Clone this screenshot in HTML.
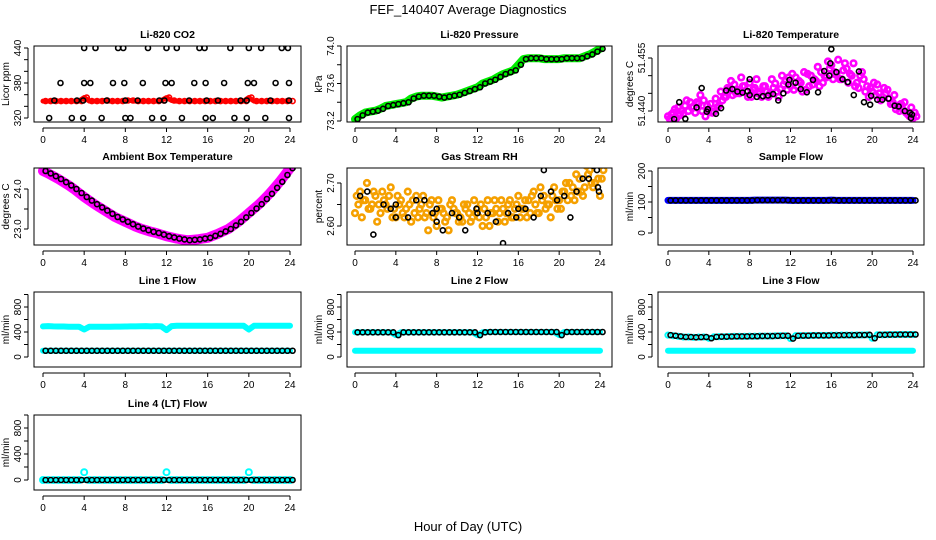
<!DOCTYPE html>
<html><head><meta charset="utf-8"><title>FEF_140407 Average Diagnostics</title>
<style>
html,body{margin:0;padding:0;background:#fff;}
svg{display:block;font-family:"Liberation Sans",sans-serif;}
</style></head>
<body>
<svg id="chart" width="936" height="540" viewBox="0 0 936 540" xmlns="http://www.w3.org/2000/svg">
<rect width="936" height="540" fill="#fff"/>
<text x="468" y="14" text-anchor="middle" font-size="13">FEF_140407  Average Diagnostics</text>
<text x="468" y="531" text-anchor="middle" font-size="13">Hour of Day (UTC)</text>
</svg>
<script>
const H49 = [0,0.5,1,1.5,2,2.5,3,3.5,4,4.5,5,5.5,6,6.5,7,7.5,8,8.5,9,9.5,10,10.5,11,11.5,12,12.5,13,13.5,14,14.5,15,15.5,16,16.5,17,17.5,18,18.5,19,19.5,20,20.5,21,21.5,22,22.5,23,23.5,24];
const xTicks = [0,4,8,12,16,20,24];

// CO2
const co2Red = [349,349,349,349,349,349,349,349,355,349,349,349,350,349,349,349,350,350,349,349,349,349,349,350,355,350,349,349,349,349,349,349,349,349,349,349,349,349,349,349,355,349,349,349,349,349,349,349,349];
const co2BlkHour = [4,5.1,7.3,7.8,10.2,12,13,15.2,15.7,18.2,20,21.2,23.2,23.8, 1.7,4,4.6,6.8,7.9,9.7,11.9,12.5,14.7,15.8,17.6,19.9,20.5,22.6,23.9, 1.1,3.3,3.9,6.2,8,9.2,11.3,11.8,14.2,15.9,17,19.2,19.8,22.1,23.9, 0.6,2.8,3.9,5.7,8,8.5,10.6,11.7,13.5,15.8,16.5,18.6,19.8,21.6,23.9];
const co2BlkVal = [440,440,440,440,440,440,440,440,440,440,440,440,440,440, 380,380,380,380,380,380,380,380,380,380,380,380,380,380,380, 350,350,350,350,350,350,350,350,350,350,350,350,350,350,350, 320,320,320,320,320,320,320,320,320,320,320,320,320,320,320];

// Pressure
const presGreen = [73.22,73.26,73.29,73.30,73.31,73.33,73.36,73.37,73.38,73.39,73.40,73.44,73.46,73.47,73.47,73.47,73.46,73.45,73.46,73.47,73.48,73.50,73.52,73.54,73.56,73.60,73.62,73.64,73.67,73.70,73.72,73.74,73.80,73.86,73.87,73.87,73.87,73.86,73.86,73.86,73.86,73.87,73.87,73.87,73.87,73.89,73.91,73.94,73.97];

// Temperature
const tmA = [51.4385,51.4395,51.4410,51.4392,51.4400,51.4412,51.4420,51.4430,51.4405,51.4398,51.4415,51.4440,51.4460,51.4475,51.4450,51.4470,51.4480,51.4465,51.4455,51.4470,51.4450,51.4478,51.4462,51.4485,51.4470,51.4495,51.4480,51.4460,51.4500,51.4485,51.4510,51.4495,51.4530,51.4505,51.4490,51.4520,51.4500,51.4480,51.4510,51.4470,51.4455,51.4475,51.4440,51.4460,51.4425,51.4415,51.4405,51.4390,51.4380];
const tmB = [51.4378,51.4405,51.4388,51.4415,51.4425,51.4395,51.4445,51.4385,51.4420,51.4435,51.4455,51.4440,51.4485,51.4450,51.4495,51.4455,51.4440,51.4490,51.4440,51.4455,51.4490,51.4455,51.4500,51.4460,51.4505,51.4470,51.4455,51.4505,51.4475,51.4525,51.4480,51.4540,51.4490,51.4545,51.4515,51.4480,51.4535,51.4465,51.4490,51.4440,51.4480,51.4450,51.4465,51.4435,51.4445,51.4400,51.4425,51.4385,51.4395];
const tmC = [51.4390,51.4380,51.4400,51.4430,51.4410,51.4425,51.4400,51.4415,51.4395,51.4410,51.4430,51.4465,51.4445,51.4460,51.4470,51.4440,51.4460,51.4450,51.4470,51.4440,51.4465,51.4440,51.4475,51.4495,51.4460,51.4485,51.4510,51.4470,51.4490,51.4470,51.4500,51.4520,51.4510,51.4490,51.4535,51.4505,51.4470,51.4500,51.4455,51.4465,51.4445,51.4430,51.4450,51.4420,51.4405,51.4420,51.4395,51.4410,51.4385];
const tmBlkHour = [0.6,1.1,1.7,2.8,3.3,3.8,3.9,4.7,5.2,5.7,6.3,6.8,7.3,7.8,8,8,8.7,9.3,9.8,10.3,10.8,11.3,11.8,11.9,12.5,13,13.6,14.2,14.7,15.3,15.8,15.9,16,16.5,17.1,17.6,18.2,18.7,19.2,19.8,19.9,20.5,21,21.6,22.2,22.6,23.2,23.7,23.8,23.9];
const tmBlkVal = [51.4377,51.4425,51.4378,51.4410,51.4465,51.4398,51.4405,51.4392,51.4408,51.4458,51.4462,51.4455,51.4452,51.4456,51.4445,51.4490,51.4440,51.4442,51.4444,51.4448,51.4430,51.4450,51.4475,51.4488,51.4480,51.4462,51.4453,51.4488,51.4453,51.4513,51.4500,51.4535,51.4575,51.4510,51.4490,51.4482,51.4445,51.4512,51.4425,51.4418,51.4443,51.4432,51.4432,51.4435,51.4415,51.4413,51.4400,51.4395,51.4380,51.4390];

// Ambient
const ambMag = [24.45,24.39,24.32,24.25,24.17,24.09,24.00,23.90,23.80,23.71,23.62,23.54,23.46,23.38,23.30,23.24,23.18,23.12,23.06,23.01,22.97,22.93,22.90,22.86,22.82,22.79,22.76,22.74,22.72,22.73,22.74,22.76,22.78,22.83,22.88,22.94,23.00,23.09,23.18,23.29,23.40,23.51,23.62,23.75,23.88,24.03,24.18,24.35,24.52];

// Gas stream RH
const rhA = [2.63,2.68,2.66,2.64,2.67,2.63,2.65,2.69,2.62,2.66,2.64,2.61,2.67,2.65,2.63,2.66,2.60,2.64,2.62,2.66,2.63,2.61,2.65,2.62,2.64,2.60,2.66,2.63,2.61,2.64,2.65,2.62,2.67,2.64,2.66,2.68,2.63,2.67,2.65,2.69,2.66,2.68,2.70,2.66,2.71,2.69,2.73,2.70,2.67];
const rhB = [2.67,2.62,2.70,2.65,2.61,2.68,2.64,2.62,2.67,2.63,2.68,2.66,2.62,2.67,2.59,2.62,2.66,2.63,2.59,2.64,2.61,2.65,2.63,2.66,2.62,2.64,2.60,2.66,2.63,2.61,2.66,2.64,2.62,2.66,2.63,2.65,2.69,2.64,2.62,2.66,2.64,2.70,2.67,2.72,2.68,2.74,2.70,2.75,2.71];
const rhC = [2.65,2.66,2.64,2.68,2.65,2.66,2.67,2.64,2.65,2.62,2.65,2.63,2.64,2.62,2.65,2.63,2.64,2.61,2.65,2.63,2.62,2.64,2.61,2.63,2.65,2.62,2.63,2.64,2.66,2.63,2.62,2.65,2.64,2.62,2.67,2.63,2.66,2.65,2.67,2.64,2.68,2.66,2.69,2.68,2.67,2.72,2.69,2.71,2.73];
const rhBlkHour = [0.5,1.2,1.8,2.8,3.5,4,4,5.2,6,6.8,7.6,8,8,8.6,9.5,10.2,10.8,11.9,12,13,13.8,14.5,15,15.8,16,16.7,17.5,18.2,18.5,19.2,19.8,20.5,21.1,21.7,22.3,22.9,23.3,23.7,23.8,23.9];
const rhBlkVal = [2.67,2.68,2.58,2.65,2.64,2.62,2.65,2.62,2.66,2.66,2.63,2.61,2.64,2.59,2.63,2.62,2.59,2.64,2.63,2.63,2.61,2.56,2.63,2.62,2.64,2.64,2.62,2.67,2.73,2.68,2.66,2.67,2.62,2.68,2.71,2.71,2.74,2.73,2.69,2.68];

// Flows
const sampleBlue = [105,105,105,105,105,105,105,105,105,105,105,105,105,105,105,105,105,106,106,106,106,106,106,106,105,105,105,105,105,105,105,105,106,105,105,105,105,105,105,105,105,105,105,105,105,105,105,105,105];
const l1Hi = [490,495,490,488,488,485,485,485,440,485,485,485,485,485,486,486,488,490,490,492,495,490,495,490,430,495,500,500,500,500,500,500,500,500,500,500,500,500,500,500,440,500,500,500,500,500,500,500,500];
const l1Lo = [100,100,100,100,100,100,100,100,100,100,100,100,100,100,100,100,100,100,100,100,100,100,100,100,100,100,100,100,100,100,100,100,100,100,100,100,100,100,100,100,100,100,100,100,100,100,100,100,100];
const l2Hi = [395,395,395,395,395,395,395,395,350,395,395,395,395,395,395,395,395,395,395,395,395,395,395,395,350,395,400,400,400,400,400,400,400,400,400,400,400,400,400,400,350,400,400,400,400,400,400,400,400];
const l2Lo = [100,100,100,100,100,100,100,100,100,100,100,100,100,100,100,100,100,100,100,100,100,100,100,100,100,100,100,100,100,100,100,100,100,100,100,100,100,100,100,100,100,100,100,100,100,100,100,100,100];
const l3Hi = [350,340,330,320,320,315,318,320,300,322,325,325,328,330,330,330,332,332,335,335,335,338,340,340,295,340,342,342,345,345,345,345,348,348,350,350,350,352,352,355,300,355,355,358,358,360,360,360,360];
const l3Lo = [100,100,100,100,100,100,100,100,100,100,100,100,100,100,100,100,100,100,100,100,100,100,100,100,100,100,100,100,100,100,100,100,100,100,100,100,100,100,100,100,100,100,100,100,100,100,100,100,100];
const l4Cyan = [0,0,0,0,0,0,0,0,120,0,0,0,0,0,0,0,0,0,0,0,0,0,0,0,120,0,0,0,0,0,0,0,0,0,0,0,0,0,0,0,120,0,0,0,0,0,0,0,0];
const l4Blk = [0,0,0,0,0,0,0,0,0,0,0,0,0,0,0,0,0,0,0,0,0,0,0,0,0,0,0,0,0,0,0,0,0,0,0,0,0,0,0,0,0,0,0,0,0,0,0,0,0];

const NS = 'http://www.w3.org/2000/svg';
const svg = document.getElementById('chart');
function mk(tag, attrs, parent){
  const e = document.createElementNS(NS, tag);
  for (const k in attrs) e.setAttribute(k, attrs[k]);
  (parent || svg).appendChild(e);
  return e;
}
const COLS = [{b0:34,b1:301,x0:43,x24:290},{b0:347,b1:612,x0:355,x24:600},{b0:658,b1:924,x0:668,x24:913}];
const ROWS = [{t:46,b:122},{t:168,b:245},{t:292,b:367},{t:415,b:490}];

function panel(name, col, row, title, ylab, v1, p1, v2, p2, ticks, labels){
  const C = COLS[col], R = ROWS[row];
  const g = mk('g', {});
  
  
  const xs = h => C.x0 + (C.x24 - C.x0) * h / 24;
  const ys = v => p1 + (p2 - p1) * (v - v1) / (v2 - v1);
  const t = mk('text', {x:(C.b0+C.b1)/2, y:R.t-8, 'text-anchor':'middle', 'font-size':'10.5', 'font-weight':'bold'}, g);
  t.textContent = title;
  
  
  const yl = mk('text', {transform:`translate(${C.b0-25},${(R.t+R.b)/2}) rotate(-90)`, 'text-anchor':'middle', 'font-size':'10'}, g);
  yl.textContent = ylab;
  
  
  const xa = mk('g', {}, g);
  
  
  mk('line', {x1:xs(0), x2:xs(24), y1:R.b+6, y2:R.b+6, stroke:'#000'}, xa);
  xTicks.forEach(h => {
    mk('line', {x1:xs(h), x2:xs(h), y1:R.b+6, y2:R.b+10, stroke:'#000'}, xa);
    const l = mk('text', {x:xs(h), y:R.b+21, 'text-anchor':'middle', 'font-size':'10'}, xa);
    l.textContent = h;
  });
  const ya = mk('g', {}, g);
  
  
  const yx = C.b0 - 6;
  mk('line', {x1:yx, x2:yx, y1:ys(ticks[0]), y2:ys(ticks[ticks.length-1]), stroke:'#000'}, ya);
  ticks.forEach(v => {
    mk('line', {x1:yx-4, x2:yx, y1:ys(v), y2:ys(v), stroke:'#000'}, ya);
  });
  labels.forEach(v => {
    const l = mk('text', {transform:`translate(${yx-7},${ys(v)}) rotate(-90)`, 'text-anchor':'middle', 'font-size':'10'}, ya);
    l.textContent = v;
  });
  const clip = 'clip-' + name;
  const cp = mk('clipPath', {id:clip}, g);
  mk('rect', {x:C.b0, y:R.t, width:C.b1-C.b0, height:R.b-R.t}, cp);
  const plot = mk('g', {'clip-path':`url(#${clip})`}, g);
  mk('rect', {x:C.b0, y:R.t, width:C.b1-C.b0, height:R.b-R.t, fill:'none', stroke:'#000'}, g);
  return {xs, ys, plot};
}
function band(P, hours, vals, color, w, name){
  const d = hours.map((h,i) => (i?'L':'M') + P.xs(h).toFixed(1) + ',' + P.ys(vals[i]).toFixed(1)).join('');
  const p = mk('path', {d, fill:'none', stroke:color, 'stroke-width':w, 'stroke-linecap':'round', 'stroke-linejoin':'round'}, P.plot);
  
  
}
function pts(P, hours, vals, color, name, off, sw, r){
  const g = mk('g', {}, P.plot);
  
  
  vals.forEach((v,i) => {
    mk('circle', {cx:P.xs(hours[i] + (off||0)), cy:P.ys(v), r:r||2.5, fill:'none', stroke:color, 'stroke-width':sw||1.6}, g);
  });
}

let P = panel('co2', 0, 0, 'Li-820 CO2', 'Licor ppm', 320, 118, 440, 48, [320,340,360,380,400,420,440], [320,380,440]);
band(P, H49, co2Red, '#ff0000', 5, 'co2-red-band');
pts(P, H49, co2Red, '#ff0000', 'co2-red-points', 0.25, 1.6, 2.5);
pts(P, co2BlkHour, co2BlkVal, '#000', 'co2-black-points');

P = panel('pressure', 1, 0, 'Li-820 Pressure', 'kPa', 73.2, 121, 74.0, 46, [73.2,73.4,73.6,73.8,74.0], ['73.2','73.6','74.0']);
band(P, H49, presGreen, '#00ee00', 8, 'pressure-green-band');
pts(P, H49, presGreen, '#000', 'pressure-black-points', 0.25);

P = panel('temperature', 2, 0, 'Li-820 Temperature', 'degrees C', 51.440, 111, 51.455, 58, [51.440,51.445,51.450,51.455], ['51.440','51.455']);
pts(P, H49, tmA, '#ff00ff', 'temperature-magenta-a', 0, 2.6, 2.8);
pts(P, H49, tmB, '#ff00ff', 'temperature-magenta-b', 0.17, 2.6, 2.8);
pts(P, H49, tmC, '#ff00ff', 'temperature-magenta-c', 0.33, 2.6, 2.8);
pts(P, tmBlkHour, tmBlkVal, '#000', 'temperature-black-points');

P = panel('ambient', 0, 1, 'Ambient Box Temperature', 'degrees C', 23.0, 229, 24.0, 189, [23.0,23.5,24.0], ['23.0','24.0']);
band(P, H49, ambMag, '#ff00ff', 10, 'ambient-magenta-band');
pts(P, H49, ambMag, '#000', 'ambient-black-points', 0.25);

P = panel('rh', 1, 1, 'Gas Stream RH', 'percent', 2.60, 226, 2.70, 183, [2.60,2.65,2.70], ['2.60','2.70']);
pts(P, H49, rhA, '#f5a000', 'rh-orange-a', 0, 2.6, 2.8);
pts(P, H49, rhB, '#f5a000', 'rh-orange-b', 0.17, 2.6, 2.8);
pts(P, H49, rhC, '#f5a000', 'rh-orange-c', 0.33, 2.6, 2.8);
pts(P, rhBlkHour, rhBlkVal, '#000', 'rh-black-points');

P = panel('sample-flow', 2, 1, 'Sample Flow', 'ml/min', 0, 233, 200, 171, [0,50,100,150,200], [0,100,200]);
band(P, H49, sampleBlue, '#0000ff', 7, 'sample-flow-blue-band');
pts(P, H49, sampleBlue, '#000', 'sample-flow-black-points', 0.25);

const fT = [0,200,400,600,800,1000], fL = [0,400,800];
P = panel('line1-flow', 0, 2, 'Line 1 Flow', 'ml/min', 0, 357, 800, 307, fT, fL);
band(P, H49, l1Hi, '#00ffff', 6, 'line1-cyan-high');
band(P, H49, l1Lo, '#00ffff', 6, 'line1-cyan-low');
pts(P, H49, l1Lo, '#000', 'line1-black-points', 0.25);

P = panel('line2-flow', 1, 2, 'Line 2 Flow', 'ml/min', 0, 357, 800, 307, fT, fL);
band(P, H49, l2Hi, '#00ffff', 6, 'line2-cyan-high');
band(P, H49, l2Lo, '#00ffff', 6, 'line2-cyan-low');
pts(P, H49, l2Hi, '#000', 'line2-black-points', 0.25);

P = panel('line3-flow', 2, 2, 'Line 3 Flow', 'ml/min', 0, 357, 800, 307, fT, fL);
pts(P, H49, l3Hi, '#00ffff', 'line3-cyan-high', 0, 2, 2.6);
band(P, H49, l3Lo, '#00ffff', 6, 'line3-cyan-low');
pts(P, H49, l3Hi, '#000', 'line3-black-points', 0.25);

P = panel('line4-flow', 0, 3, 'Line 4 (LT) Flow', 'ml/min', 0, 480, 800, 428, fT, fL);
pts(P, H49, l4Cyan, '#00ffff', 'line4-cyan-points', 0, 2, 3);
band(P, H49, l4Blk, '#00ffff', 6, 'line4-cyan-band');
pts(P, H49, l4Blk, '#000', 'line4-black-points', 0.25);
</script>
</body></html>
